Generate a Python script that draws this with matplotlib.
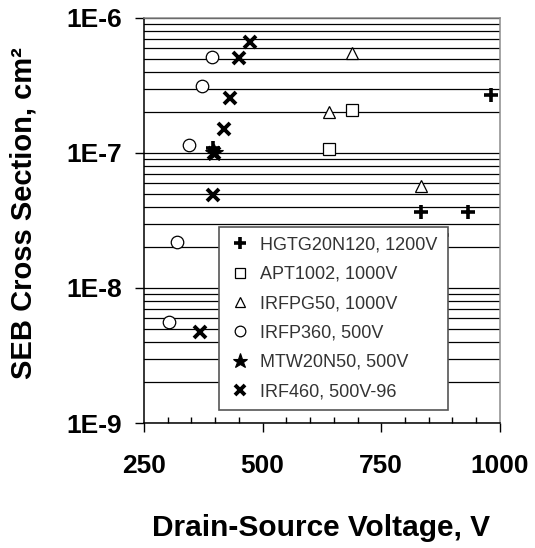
#!/usr/bin/env python3

import math
import matplotlib
matplotlib.use("Agg")
import matplotlib.pyplot as plt
from matplotlib.ticker import FixedLocator, LogLocator, NullFormatter, FuncFormatter

# SEB cross section vs drain-source voltage
hgtg_v = [981, 833, 932, 878, 395]
hgtg_cs = [2.69e-7, 3.67e-8, 3.67e-8, 2.45e-8, 1.09e-7]

apt_v = [688, 639]
apt_cs = [2.08e-7, 1.07e-7]

irfpg_v = [688, 639, 833]
irfpg_cs = [5.47e-7, 2.0e-7, 5.73e-8]

irfp360_v = [394, 373, 345, 320, 303]
irfp360_cs = [5.18e-7, 3.13e-7, 1.15e-7, 2.2e-8, 5.57e-9]

mtw_v = [397]
mtw_cs = [1.0e-7]

irf460_v = [473, 451, 431, 419, 395, 368, 398]
irf460_cs = [6.67e-7, 5.03e-7, 2.57e-7, 1.5e-7, 4.9e-8, 4.74e-9, 1.0e-7]

labels = ["HGTG20N120, 1200V", "APT1002, 1000V", "IRFPG50, 1000V",
          "IRFP360, 500V", "MTW20N50, 500V", "IRF460, 500V-96"]

plt.rcParams["font.family"] = ["Liberation Sans", "DejaVu Sans"]

fig = plt.figure(figsize=(5.35, 5.48), dpi=100)
ax = fig.add_axes([0.269, 0.2281, 0.6654, 0.7391])

ax.set_yscale("log")
ax.set_xlim(250, 1000)
ax.set_ylim(1e-9, 1e-6)

# horizontal grid at every log step
ax.yaxis.set_minor_locator(LogLocator(base=10, subs=range(2, 10)))
ax.yaxis.set_minor_formatter(NullFormatter())
ax.grid(True, axis="y", which="both", color="black", linewidth=0.9)
ax.set_axisbelow(True)

h1, = ax.plot(hgtg_v, hgtg_cs, "+", color="black", ms=10, mew=2.6, ls="none")
h2, = ax.plot(apt_v, apt_cs, "s", mfc="white", mec="black", ms=8.5, mew=0.9, ls="none")
h3, = ax.plot(irfpg_v, irfpg_cs, "^", mfc="white", mec="black", ms=9, mew=0.9, ls="none")
h4, = ax.plot(irfp360_v, irfp360_cs, "o", mfc="white", mec="black", ms=9, mew=0.9, ls="none")
h5, = ax.plot(mtw_v, mtw_cs, "*", color="black", ms=13, mew=0.8, ls="none")
h6, = ax.plot(irf460_v, irf460_cs, "x", color="black", ms=8.5, mew=2.8, ls="none")

ax.set_xticks([250, 500, 750, 1000])
ax.xaxis.set_minor_locator(FixedLocator(range(300, 1000, 50)))
ax.set_yticks([1e-9, 1e-8, 1e-7, 1e-6])
ax.yaxis.set_major_formatter(FuncFormatter(lambda v, p: "1E%d" % round(math.log10(v))))

ax.tick_params(axis="x", which="major", direction="out", length=6.5, width=1,
               pad=16, labelsize=19)
ax.tick_params(axis="x", which="minor", direction="in", length=4.3, width=1)
ax.tick_params(axis="y", which="major", direction="out", length=6.5, width=1,
               pad=9, labelsize=19)
ax.tick_params(axis="y", which="minor", length=0)
for t in ax.get_xticklabels() + ax.get_yticklabels():
    t.set_fontweight("bold")

ax.spines["left"].set_color("black")
ax.spines["bottom"].set_color("black")
ax.spines["top"].set_color("#8c8c8c")
ax.spines["right"].set_color("#8c8c8c")
for s in ax.spines.values():
    s.set_linewidth(1.1)

fig.text(0.043, 0.611, "SEB Cross Section, cm²", rotation=90, ha="center",
         va="center", fontsize=21, fontweight="bold")
fig.text(0.6, 0.0365, "Drain-Source Voltage, V", ha="center", va="center",
         fontsize=21.5, fontweight="bold")

leg = ax.legend([h1, h2, h3, h4, h5, h6], labels, loc="lower left",
                bbox_to_anchor=(0.211, 0.032, 0.643, 0.452), mode="expand",
                borderaxespad=0, frameon=True, fancybox=False, framealpha=1,
                edgecolor="#555555", prop={"size": 13}, labelcolor="#333333",
                labelspacing=0.68, handletextpad=0.5, handlelength=1.2,
                borderpad=0.55, markerscale=0.85)
leg.get_frame().set_linewidth(1.2)
leg.set_zorder(5)

fig.savefig("out.png", dpi=100)
